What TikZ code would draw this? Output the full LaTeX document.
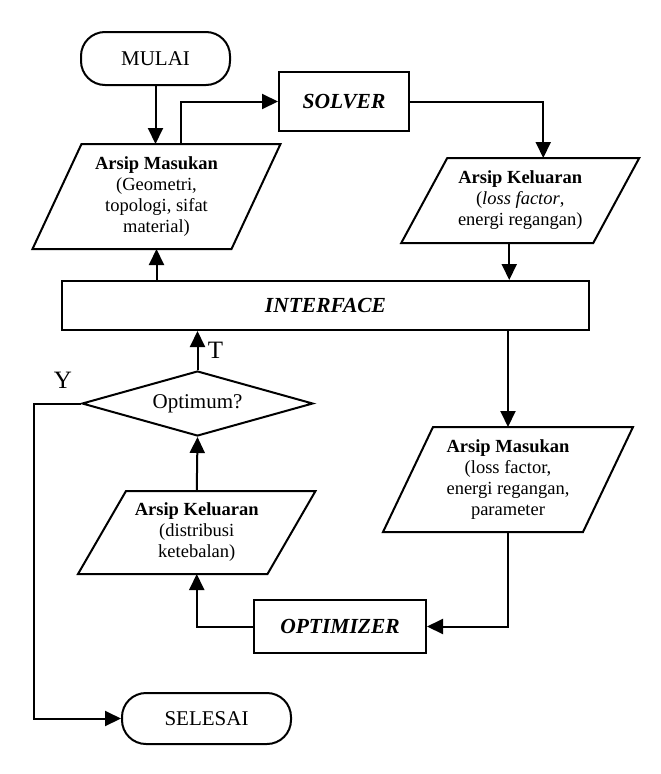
\documentclass[tikz,border=0pt]{standalone}
\usepackage{fontspec}
\setmainfont{Liberation Serif}
\usetikzlibrary{arrows.meta,shapes.geometric}
\tikzset{
  term/.style={draw, rectangle, rounded corners=24pt, minimum width=149pt, minimum height=53pt, font=\fontsize{21}{24}\selectfont},
  proses/.style={draw, rectangle, font=\fontsize{21.5}{24}\selectfont\bfseries\itshape},
  keputusan/.style={draw, diamond, aspect=3.55, inner sep=0pt, minimum width=231pt, minimum height=65pt, font=\fontsize{21}{24}\selectfont},
  arsip/.style={align=center, inner sep=0pt, font=\fontsize{18.5}{21}\selectfont},
  label/.style={font=\fontsize{25}{27}\selectfont},
  panah/.style={-{Triangle[length=16pt,width=15pt]}}
}
% jajaran genjang di sekeliling node arsip
\newcommand{\jajar}[2]{\draw ([xshift=#2]#1.north west) -- ([xshift=#2]#1.north east) -- ([xshift=-#2]#1.south east) -- ([xshift=-#2]#1.south west) -- cycle;}
\begin{document}
\begin{tikzpicture}[x=1pt,y=-1pt,line width=2pt]
  \useasboundingbox (0,0) rectangle (661,774);
  % terminal dan proses
  \node[term] (mulai) at (155.5,58.5) {MULAI};
  \node[proses, minimum width=130pt, minimum height=59pt] (solver) at (344,101.5) {SOLVER};
  \node[proses, minimum width=527pt, minimum height=49pt] (iface) at (325.5,305.5) {INTERFACE};
  \node[proses, minimum width=172pt, minimum height=53pt] (optimizer) at (340,626.5) {OPTIMIZER};
  \node[term, minimum width=169pt, minimum height=51pt] (selesai) at (206.5,718.5) {SELESAI};
  % keputusan
  \node[keputusan] (optimum) at (197.5,403.5) {Optimum?};
  % arsip
  \node[arsip, minimum width=197pt, minimum height=103pt] (masuk1) at (156.5,196.5) {\textbf{Arsip Masukan}\\(Geometri,\\topologi, sifat\\material)};
  \node[arsip, minimum width=190pt, minimum height=83pt] (keluar1) at (520.25,200.5) {\textbf{Arsip Keluaran}\\(\textit{loss factor},\\energi regangan)};
  \node[arsip, minimum width=198pt, minimum height=103pt] (masuk2) at (508,479.5) {\textbf{Arsip Masukan}\\(loss factor,\\energi regangan,\\parameter};
  \node[arsip, minimum width=187.5pt, minimum height=81pt] (keluar2) at (196.75,532.5) {\textbf{Arsip Keluaran}\\(distribusi\\ketebalan)};
  \jajar{masuk1}{24.5pt}
  \jajar{keluar1}{23pt}
  \jajar{masuk2}{25pt}
  \jajar{keluar2}{24pt}
  % titik bantu
  \coordinate (k1) at ([xshift=-11pt]keluar1.south);
  \coordinate (belok) at (34,403.5);
  % panah
  \draw[panah] (mulai.south) -- (mulai.south |- masuk1.north);
  \draw[panah] ([xshift=24.5pt]masuk1.north) |- (solver.west);
  \draw[panah] (solver.east) -| ([xshift=23pt]keluar1.north);
  \draw[panah] (k1) -- (k1 |- iface.north);
  \draw[panah] (masuk1.south |- iface.north) -- (masuk1.south);
  \draw[panah] (iface.south -| masuk2.north) -- (masuk2.north);
  \draw[panah] (masuk2.south) |- (optimizer.east);
  \draw[panah] (optimizer.west) -| (keluar2.south);
  \draw[panah] (keluar2.north) -- (optimum.south);
  \draw[panah] (optimum.north) -- (optimum.north |- iface.south) node[midway, right, label, xshift=6pt] (t) {T};
  \draw[panah] (optimum.west) -- (belok) |- (selesai.west);
  \node[label] (y) at (63,380) {Y};
\end{tikzpicture}
\end{document}
